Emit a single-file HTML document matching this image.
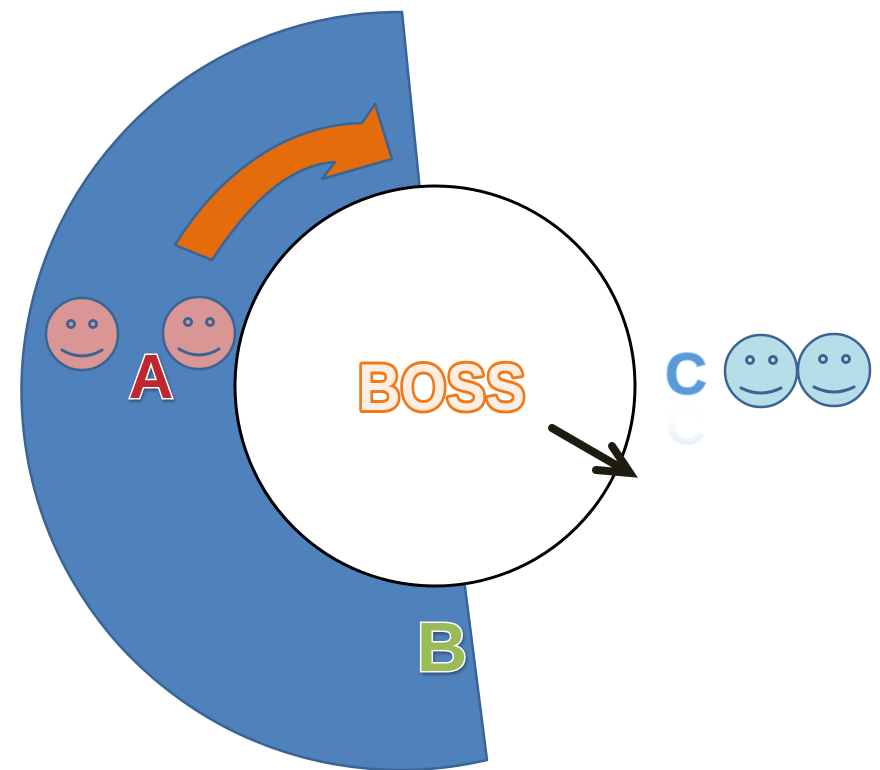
<!DOCTYPE html>
<html><head><style>html,body{margin:0;padding:0;background:#fff;}svg{display:block}</style></head>
<body>
<svg width="880" height="770" viewBox="0 0 880 770" xmlns="http://www.w3.org/2000/svg">
<defs>
<filter id="sh" x="-20%" y="-20%" width="140%" height="140%"><feDropShadow dx="1" dy="2" stdDeviation="1.5" flood-color="#000" flood-opacity="0.4"/></filter>
<linearGradient id="cg" x1="0" y1="0" x2="0" y2="1"><stop offset="0" stop-color="#9cc8f0" stop-opacity="0.6"/><stop offset="1" stop-color="#fff" stop-opacity="0"/></linearGradient>
</defs>
<path d="M402,12 A379,379 0 1 0 487,760 L440,390 Z" fill="#4f81bd" stroke="#3a6494" stroke-width="2.5" stroke-linejoin="round"/>
<path d="M175,245 C215,180 280,125 362,123 L375,104 L392,159 L322,179 L335,162 C285,165 245,210 212,260 Z" fill="#e46c0a" stroke="#3a6494" stroke-width="2.5" stroke-linejoin="round"/>
<circle cx="435" cy="386" r="200" fill="#fff" stroke="#000" stroke-width="3"/>
<g stroke="#3a6494" stroke-width="2.5">
<circle cx="82" cy="334" r="36" fill="#d99694"/>
<circle cx="199" cy="333" r="36" fill="#d99694"/>
<circle cx="761" cy="371" r="36" fill="#b7dde8"/>
<circle cx="834" cy="370" r="36" fill="#b7dde8"/>
</g>
<g fill="none" stroke="#3a6494" stroke-width="3" stroke-linecap="round">
<circle cx="71" cy="324" r="3.5"/><circle cx="93" cy="324" r="3.5"/><path d="M62,350 Q82,362 102,350"/>
<circle cx="188" cy="322" r="3.5"/><circle cx="210" cy="322" r="3.5"/><path d="M179,349 Q199,361 219,349"/>
<circle cx="750" cy="360" r="3.5"/><circle cx="773" cy="360" r="3.5"/><path d="M741,388 Q761,398 781,388"/>
<circle cx="823" cy="359" r="3.5"/><circle cx="846" cy="359" r="3.5"/><path d="M814,387 Q834,397 854,387"/>
</g>
<text x="151" y="398" text-anchor="middle" font-family="Liberation Sans, sans-serif" font-weight="bold" font-size="62" fill="#c0272d" stroke="#fff" stroke-width="3" paint-order="stroke" filter="url(#sh)">A</text>
<text x="686" y="394" text-anchor="middle" font-family="Liberation Sans, sans-serif" font-weight="bold" font-size="58" fill="#5b9bd5" stroke="#9cd0ff" stroke-width="2" paint-order="stroke">C</text>
<text x="686" y="404" text-anchor="middle" font-family="Liberation Sans, sans-serif" font-weight="bold" font-size="58" fill="url(#cg)" transform="translate(0,808) scale(1,-1)" opacity="0.6">C</text>
<text x="358" y="410" textLength="167" lengthAdjust="spacingAndGlyphs" font-family="Liberation Sans, sans-serif" font-weight="bold" font-size="66" fill="#fdeee4" stroke="#f07a1a" stroke-width="6" paint-order="stroke" stroke-linejoin="round">BOSS</text>
<text x="442" y="671" text-anchor="middle" font-family="Liberation Sans, sans-serif" font-weight="bold" font-size="70" fill="#9bbb59" stroke="#fff" stroke-width="3" paint-order="stroke" filter="url(#sh)">B</text>
<g stroke="#1e1c10" stroke-width="8" stroke-linecap="round" fill="none">
<line x1="552" y1="428" x2="628" y2="472"/>
<polyline points="612,446 630,473 596,470"/>
</g>
</svg>
</body></html>
